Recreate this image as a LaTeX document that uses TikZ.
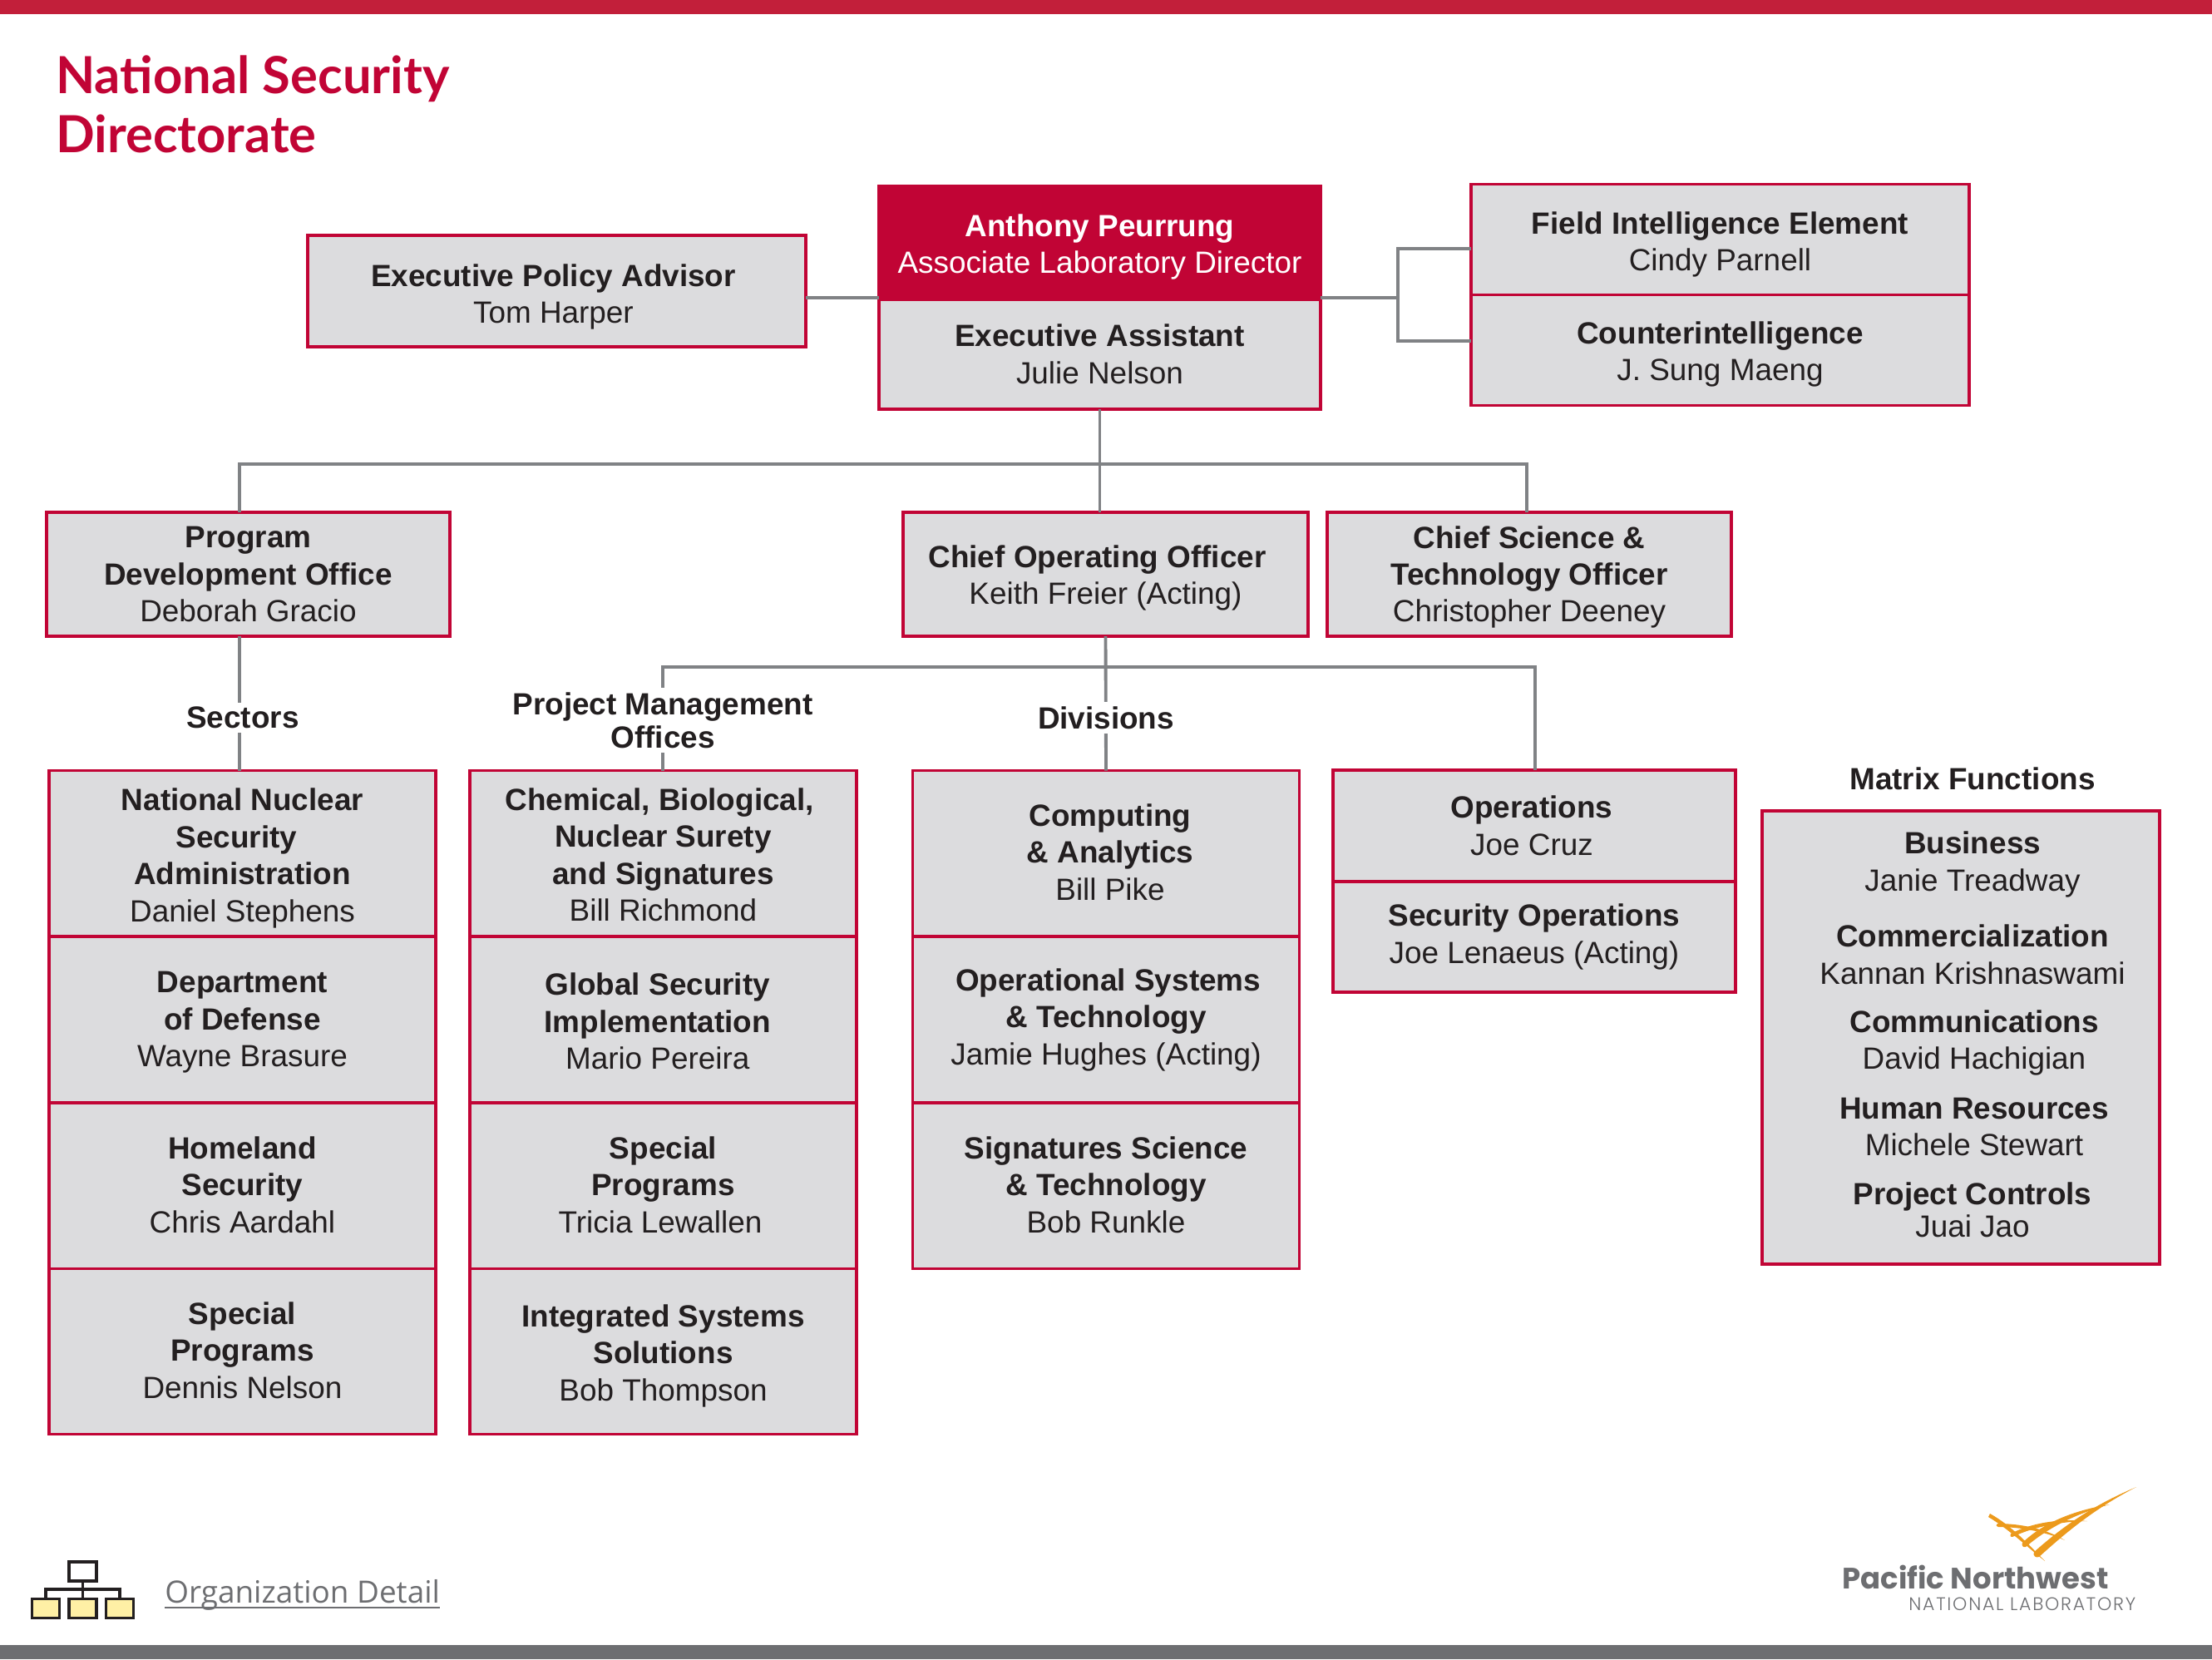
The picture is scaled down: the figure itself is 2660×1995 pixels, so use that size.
\documentclass[tikz,border=0pt]{standalone}
\usepackage{fontspec}
\setmainfont{Liberation Sans}
\newfontfamily\titlefont{Lato}
\newfontfamily\linkfont{Open Sans}
\newfontfamily\logofont{Poppins}
\newfontfamily\logolabfont[LetterSpace=8]{Poppins}[UprightFont=* Light]
\definecolor{pnnlred}{HTML}{C10435}
\definecolor{barred}{HTML}{C21F3A}
\definecolor{boxgray}{HTML}{DCDCDE}
\definecolor{linegray}{HTML}{808285}
\definecolor{darkgray}{HTML}{6D6E71}
\definecolor{inktext}{HTML}{231F20}
\definecolor{logoorange}{HTML}{EC9A1C}
\definecolor{iconyellow}{HTML}{FFF0A5}
% Finjustering av tekst i boksene
\newcommand{\padr}[2]{\mbox{#2\kern#1pt}}
\newcommand{\padl}[2]{\mbox{\kern#1pt#2}}
\newcommand{\pushdown}[1]{\rule{0pt}{\dimexpr15.3pt+#1pt*2\relax}}
\newcommand{\liftup}[1]{\rule[-\dimexpr#1pt*2\relax]{0pt}{\dimexpr#1pt*2\relax}}
\tikzset{
	orgbox/.style={draw=pnnlred,fill=boxgray,line width=2.2pt,inner sep=0pt,outer sep=0pt,align=center,text=inktext,font=\fontsize{21}{25.3}\selectfont},
	boxsize/.style 2 args={minimum width=#1*0.02cm,minimum height=#2*0.02cm},
	sectorbox/.style={orgbox,boxsize={465}{199}},
	connector/.style={draw=linegray,line width=2.2pt},
	headtext/.style={inner sep=0pt,align=center,text=inktext,font=\fontsize{21}{25.3}\selectfont\bfseries},
	headcover/.style={headtext,fill=white,inner sep=3pt},
	matrixitem/.style={inner sep=0pt,align=center,text=inktext,font=\fontsize{21}{25.3}\selectfont},
	iconbox/.style={draw=inktext,line width=2pt,inner sep=0pt,outer sep=0pt,minimum width=0.66cm,minimum height=0.46cm},
}
\begin{document}
\begin{tikzpicture}[x=0.02cm,y=-0.02cm]
	\path[use as bounding box] (0,0) rectangle (2660,1995);
	% Balker
	\fill[barred] (0,0) rectangle (2660,17);
	\fill[darkgray] (0,1978) rectangle (2660,1995);
	% Tittel
	\node[anchor=north west,inner sep=0pt,align=left,text=pnnlred,font=\titlefont\fontsize{35}{40.5}\selectfont\bfseries] (title) at (67,66) {National Security\\Directorate};
	% Toppledelse
	\node[orgbox,boxsize={599}{134}] (policy) at (669.5,350) {\pushdown{3.9}\padr{4.6}{\textbf{Executive Policy Advisor}}\\\padr{4.6}{Tom Harper}};
	\node[orgbox,boxsize={531}{132}] (assistant) at (1322.5,426) {\textbf{Executive Assistant}\\Julie Nelson};
	\node[orgbox,boxsize={531}{136},fill=pnnlred,text=white] (director) at (1322.5,292) {\pushdown{2.9}\textbf{Anthony Peurrung}\\Associate Laboratory Director};
	\node[orgbox,boxsize={599}{133}] (field) at (2068.5,288) {\pushdown{3.4}\textbf{Field Intelligence Element}\\Cindy Parnell};
	\node[orgbox,boxsize={599}{133}] (counter) at (2068.5,421) {\pushdown{2.9}\textbf{Counterintelligence}\\J. Sung Maeng};
	% Kontorer
	\node[orgbox,boxsize={485}{149}] (program) at (298.5,690.5) {\textbf{Program}\\\textbf{Development Office}\\Deborah Gracio};
	\node[orgbox,boxsize={487}{149}] (coo) at (1329.5,690.5) {\pushdown{2.4}\padr{11.4}{\textbf{Chief Operating Officer}}\\Keith Freier (Acting)};
	\node[orgbox,boxsize={486}{149}] (csto) at (1839,690.5) {\pushdown{1.9}\textbf{Chief Science \&}\\\textbf{Technology Officer}\\Christopher Deeney};
	% Sektorer
	\node[sectorbox] (nuclear) at (291.5,1026) {\pushdown{3.4}\textbf{National Nuclear}\\\padr{8}{\textbf{Security}}\\\textbf{Administration}\\Daniel Stephens};
	\node[sectorbox] (defense) at (291.5,1226) {\pushdown{1.4}\textbf{Department}\\\textbf{of Defense}\\Wayne Brasure};
	\node[sectorbox] (homeland) at (291.5,1426) {\textbf{Homeland}\\\textbf{Security}\\Chris Aardahl\liftup{1}};
	\node[sectorbox] (sectorspecial) at (291.5,1625) {\textbf{Special}\\\textbf{Programs}\\Dennis Nelson\liftup{1}};
	% Prosjektkontorer
	\node[sectorbox] (chemical) at (797.5,1026) {\pushdown{1}\padr{4.8}{\textbf{Chemical, Biological,}}\\\textbf{Nuclear Surety}\\\textbf{and Signatures}\\Bill Richmond};
	\node[sectorbox] (global) at (797.5,1226) {\pushdown{1}\padr{7.7}{\textbf{Global Security}}\\\padr{7.7}{\textbf{Implementation}}\\\padr{7.7}{Mario Pereira}};
	\node[sectorbox] (pmospecial) at (797.5,1426) {\textbf{Special}\\\textbf{Programs}\\\padr{3.9}{Tricia Lewallen}\liftup{1}};
	\node[sectorbox] (integrated) at (797.5,1625) {\pushdown{2.9}\textbf{Integrated Systems}\\\textbf{Solutions}\\Bob Thompson};
	% Divisjoner
	\node[sectorbox] (computing) at (1330,1026) {\padl{5.7}{\textbf{Computing}}\\\padl{5.7}{\textbf{\& Analytics}}\\\padl{5.7}{Bill Pike}\liftup{1}};
	\node[sectorbox] (opsystems) at (1330,1226) {\padl{3}{\textbf{Operational Systems}}\\\textbf{\& Technology}\\Jamie Hughes (Acting)};
	\node[sectorbox] (signatures) at (1330,1426) {\textbf{Signatures Science}\\\textbf{\& Technology}\\Bob Runkle\liftup{1}};
	\node[orgbox,boxsize={484}{134}] (operations) at (1845,993) {\padr{3.4}{\textbf{Operations}}\\\padr{3.4}{Joe Cruz}};
	\node[orgbox,boxsize={484}{133}] (security) at (1845,1126.5) {\textbf{Security Operations}\\Joe Lenaeus (Acting)};
	% Matrise
	\node[orgbox,boxsize={478}{545}] (matrix) at (2358,1247.5) {};
	\node[matrixitem] (business) at (2372,1039.5) {\textbf{Business}\\Janie Treadway};
	\node[matrixitem] (commercial) at (2372,1148) {\textbf{Commercialization}\\Kannan Krishnaswami};
	\node[matrixitem] (communications) at (2374,1254) {\textbf{Communications}\\David Hachigian};
	\node[matrixitem] (human) at (2374,1355) {\textbf{Human Resources}\\Michele Stewart};
	\node[matrixitem,font=\fontsize{21}{22.5}\selectfont] (controls) at (2372,1455) {\textbf{Project Controls}\\Juai Jao};
	\node[headtext] (matrixhead) at (2372,936) {Matrix Functions};
	% Linjer
	\coordinate (leftdrop) at (288,558);
	\coordinate (rightdrop) at (1836,558);
	\coordinate (pmodrop) at (797,802);
	\coordinate (opsdrop) at (1846,802);
	\coordinate (sidebus) at (1681,358);
	\coordinate (fieldstub) at (1681,299);
	\coordinate (counterstub) at (1681,410);
	\draw[connector] (assistant.south) -- (assistant.south |- coo.north);
	\draw[connector] (leftdrop |- program.north) -- (leftdrop) -- (rightdrop) -- (rightdrop |- csto.north);
	\draw[connector] (coo.south) -- (computing.north);
	\draw[connector] (pmodrop |- chemical.north) -- (pmodrop) -- (opsdrop) -- (opsdrop |- operations.north);
	\draw[connector] (leftdrop |- program.south) -- (leftdrop |- nuclear.north);
	\draw[connector] (sidebus -| policy.east) -- (sidebus -| director.west);
	\draw[connector] (sidebus -| director.east) -- (sidebus);
	\draw[connector] (field.west |- fieldstub) -- (fieldstub) -- (counterstub) -- (counter.west |- counterstub);
	% Overskrifter
	\node[headcover] (sectors) at (292,863) {Sectors};
	\node[headcover,font=\fontsize{21}{22.6}\selectfont\bfseries] (pmohead) at (797,866) {Project Management\\Offices};
	\node[headcover] (divisions) at (1330,863) {Divisions};
	% Ikon og lenke
	\node[iconbox] (icontop) at (99.5,1889.5) {};
	\node[iconbox,fill=iconyellow] (iconleft) at (55,1934) {};
	\node[iconbox,fill=iconyellow] (iconmid) at (99.5,1934) {};
	\node[iconbox,fill=iconyellow] (iconright) at (144,1934) {};
	\coordinate (iconbus) at (99.5,1911);
	\draw[draw=inktext,line width=2pt] (icontop.south) -- (iconmid.north);
	\draw[draw=inktext,line width=2pt] (iconleft.north) -- (iconleft.north |- iconbus) -- (iconright.north |- iconbus) -- (iconright.north);
	\node[anchor=base west,inner sep=0pt,text=darkgray,font=\linkfont\fontsize{21}{25}\selectfont] (detail) at (198,1927) {Organization Detail};
	\draw[darkgray,line width=1.4pt] ([yshift=-0.12cm]detail.base west) -- ([yshift=-0.12cm]detail.base east);
	% Logo
	\fill[logoorange] (2393,1820) .. controls (2420,1835) and (2440,1858) .. (2459,1877) .. controls (2440,1862) and (2415,1838) .. (2391,1824) -- cycle;
	\fill[logoorange] (2446,1866) .. controls (2478,1838) and (2512,1812) .. (2569,1788) .. controls (2520,1813) and (2485,1842) .. (2452,1872) .. controls (2448,1874) and (2444,1870) .. (2446,1866) -- cycle;
	\fill[logoorange] (2432,1855) .. controls (2460,1828) and (2500,1815) .. (2537,1809) .. controls (2500,1819) and (2465,1835) .. (2436,1860) .. controls (2432,1861) and (2431,1858) .. (2432,1855) -- cycle;
	\fill[logoorange] (2418,1844) .. controls (2445,1830) and (2480,1826) .. (2510,1829) .. controls (2480,1829) and (2445,1836) .. (2420,1848) .. controls (2417,1848) and (2417,1846) .. (2418,1844) -- cycle;
	\fill[logoorange] (2402,1832) .. controls (2430,1832) and (2460,1838) .. (2483,1852) .. controls (2460,1842) and (2430,1836) .. (2403,1836) .. controls (2400,1835) and (2400,1833) .. (2402,1832) -- cycle;
	\node[anchor=base west,inner sep=0pt,text=darkgray,font=\logofont\fontsize{20.2}{22}\selectfont\bfseries] (logoname) at (2215,1910) {Pacific Northwest};
	\node[anchor=base west,inner sep=0pt,text=darkgray,font=\logolabfont\fontsize{12.5}{14}\selectfont] (logolab) at (2295,1936) {NATIONAL LABORATORY};
\end{tikzpicture}
\end{document}
